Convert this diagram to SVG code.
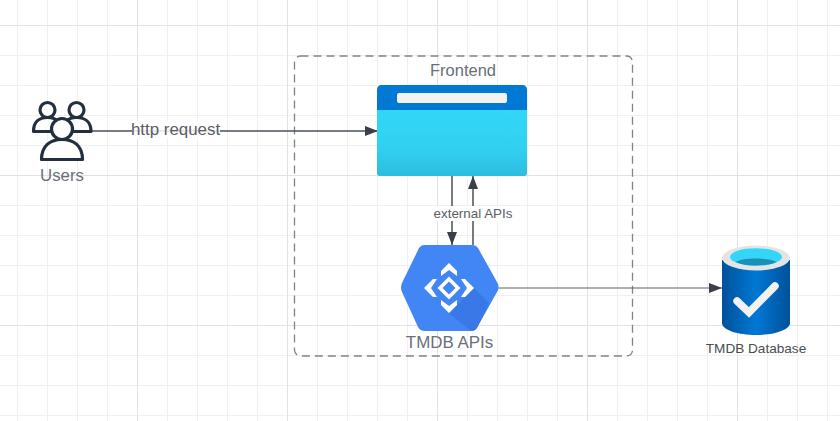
<svg xmlns="http://www.w3.org/2000/svg" width="840" height="421" viewBox="0 0 840 421">
<style>
.t{font-family:"Liberation Sans",Arial,sans-serif;fill:#6a6f78}
.g1{stroke:#f0f0f0;stroke-width:1}
.g2{stroke:#e2e2e2;stroke-width:1}
.c{fill:none;stroke:#4a4f59;stroke-width:1.5}
.u{fill:#fff;stroke:#232f41;stroke-width:3.2;stroke-linejoin:round}
</style>
<defs>
<marker id="a" markerUnits="userSpaceOnUse" markerWidth="14" markerHeight="12" refX="13" refY="6" orient="auto"><path d="M0 1L13 6L0 11Z" fill="#3a3f4b"/></marker>
<linearGradient id="b" x1="0" y1="0" x2="0" y2="1"><stop offset="0" stop-color="#33d6f7"/><stop offset=".6" stop-color="#31d0f0"/><stop offset="1" stop-color="#2dbcde"/></linearGradient>
<linearGradient id="d" x1="0" y1="0" x2="1" y2="0"><stop offset="0" stop-color="#00519a"/><stop offset=".5" stop-color="#0078d4"/><stop offset="1" stop-color="#00519a"/></linearGradient>
</defs>
<g id="grid">
<path class="g1" d="M17.500 0V421M47.500 0V421M77.500 0V421M107.500 0V421M167.500 0V421M197.500 0V421M227.500 0V421M257.500 0V421M317.500 0V421M347.500 0V421M377.500 0V421M407.500 0V421M467.500 0V421M497.500 0V421M527.500 0V421M557.500 0V421M617.500 0V421M647.500 0V421M677.500 0V421M707.500 0V421M767.500 0V421M797.500 0V421M827.500 0V421M0 55.500H840M0 85.500H840M0 115.500H840M0 145.500H840M0 205.500H840M0 235.500H840M0 265.500H840M0 295.500H840M0 355.500H840M0 385.500H840M0 415.500H840"/>
<path class="g2" d="M137.500 0V421M287.500 0V421M437.500 0V421M587.500 0V421M737.500 0V421M0 25.500H840M0 175.500H840M0 325.500H840"/>
</g>
<g id="boundary"><rect x="294.500" y="56" width="338" height="300" rx="6" fill="none" stroke="#7f848c" stroke-width="1.300" stroke-dasharray="8 5"/><text class="t" x="463" y="76" font-size="16.500" text-anchor="middle">Frontend</text></g>
<g id="connectors">
<path class="c" d="M92 131H378" marker-end="url(#a)"/>
<path class="c" d="M452 176V245" marker-end="url(#a)"/>
<path class="c" d="M473 245V176" marker-end="url(#a)"/>
<path class="c" d="M498 288H722" style="stroke-width:1;stroke:#5a5f68" marker-end="url(#a)"/>
</g>
<g id="users">
<circle class="u" cx="47.500" cy="110" r="7.500"/><circle class="u" cx="76.500" cy="110" r="7.500"/>
<path class="u" d="M33.500 131.500C33.500 122 39 117.500 47.500 117.500C56 117.500 61 122 61 131.500Z"/>
<path class="u" d="M63 131.500C63 122 68 117.500 76.500 117.500C85 117.500 91 122 91 131.500Z"/>
<path class="u" d="M41.500 159.500C41.500 146 50 139.500 62 139.500C74 139.500 82.500 146 82.500 159.500Z"/>
<circle class="u" cx="62" cy="129" r="10.500"/>
<text class="t" x="62" y="181" font-size="16.800" text-anchor="middle">Users</text>
</g>
<g id="http-label"><rect x="132" y="121" width="88" height="18" fill="#fff" fill-opacity=".85"/><text x="175.500" y="135" font-size="16.900" text-anchor="middle" font-family="Liberation Sans,Arial,sans-serif" fill="#595d64">http request</text></g>
<g id="frontend">
<path d="M377 110H527V173Q527 176 524 176H380Q377 176 377 173Z" fill="url(#b)"/>
<path d="M377 110V90Q377 85 382 85H522Q527 85 527 90V110Z" fill="#0078d4"/>
<rect x="397" y="93" width="110" height="10" rx="2" fill="#f2f2f2"/>
</g>
<g id="api-label"><rect x="433" y="206" width="80" height="15" fill="#fff"/><text x="473" y="218" font-size="13.400" text-anchor="middle" font-family="Liberation Sans,Arial,sans-serif" fill="#595d64">external APIs</text></g>
<g id="tmdb-apis">
<path d="M424 245H472Q476 245 478 248L497 282Q500 287 497 292L478 326Q476 331 471 331H425Q420 331 418 327L402 292Q400 288 402 283L419 248Q421 245 424 245Z" fill="#4285f4"/>
<path d="M474 288L489 303L478 326Q476 331 471 331L449 313Z" fill="#3b78e7"/>
<path d="M449 263L457 271V276L449 270L441 276V271ZM449 313L457 305V300L449 306L441 300V305ZM424 288L433 279H437L431 288L437 297H433ZM474 288L465 279H461L467 288L461 297H465Z" fill="#fff"/>
<path d="M449 276.500L460.500 288L449 299.500L437.500 288Z" fill="#fff"/>
<path d="M449 281.500L455.500 288L449 294.500L442.500 288Z" fill="#4285f4"/>
<text class="t" x="449.500" y="348" font-size="16.900" text-anchor="middle">TMDB APIs</text>
</g>
<g id="tmdb-database">
<path d="M722 260V323C722 330 738 335 756 335C774 335 790 330 790 323V260Z" fill="url(#d)"/>
<ellipse cx="756" cy="258" rx="34" ry="12.500" fill="#e4e4e4"/>
<ellipse cx="756" cy="257" rx="26" ry="8.800" fill="#33d6f7"/>
<path d="M735.500 262C740 259.500 747 258.500 756 258.500C765 258.500 772 259.500 776.500 262C771 264.500 764 265.500 756 265.500C748 265.500 741 264.500 735.500 262Z" fill="#1c8fb5"/>
<path d="M737 301L749 312.500L775 286" fill="none" stroke="#f2f2f2" stroke-width="7.500" stroke-linecap="round" stroke-linejoin="miter"/>
<text x="756" y="353" font-size="13.600" text-anchor="middle" font-family="Liberation Sans,Arial,sans-serif" fill="#4a4d52">TMDB Database</text>
</g>
</svg>
